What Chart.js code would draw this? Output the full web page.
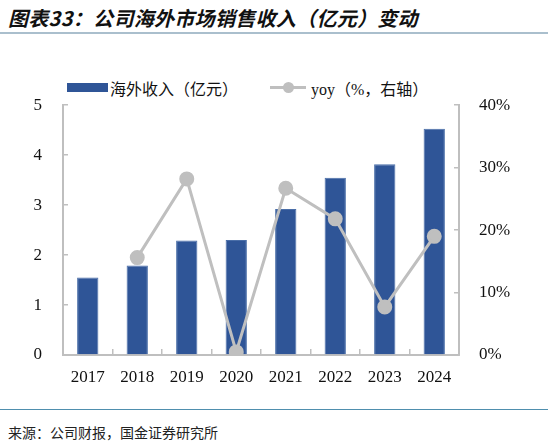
<!DOCTYPE html>
<html>
<head>
<meta charset="utf-8">
<script src="https://cdn.jsdelivr.net/npm/chart.js@4.4.1/dist/chart.umd.min.js"></script>
<style>
  body { margin: 0; width: 548px; height: 446px; background: #fff; position: relative; overflow: hidden; }
  .title { position: absolute; left: 8px; top: 3px; font: italic bold 20px "Noto Sans CJK SC", sans-serif; color: #111; letter-spacing: 0.3px; }
  .rule-top { position: absolute; left: 0; top: 32px; width: 548px; height: 2px; background: #aabfcd; }
  .rule-bottom { position: absolute; left: 0; top: 409px; width: 548px; height: 1px; background: #4f8fae; }
  .source { position: absolute; left: 8px; top: 422px; font: 14px "Noto Sans CJK SC", sans-serif; color: #222; }
  .legend { position: absolute; top: 74px; left: 0; font: 16px "Liberation Serif", "Noto Sans CJK SC", serif; color: #111; }
  .legend .item { position: absolute; white-space: nowrap; }
  .box { position: absolute; left: 67px; top: 9px; width: 41px; height: 9px; background: #2f5597; }
  .lline { position: absolute; left: 270px; top: 12px; width: 36px; height: 3px; background: #bfbfbf; }
  .ldot { position: absolute; left: 283px; top: 8px; width: 11px; height: 11px; border-radius: 50%; background: #bfbfbf; }
  #wrap { position: absolute; left: 0; top: 69px; width: 548px; height: 326px; }
</style>
</head>
<body>
<div class="title">图表33：公司海外市场销售收入（亿元）变动</div>
<div class="rule-top"></div>
<div class="legend">
  <div class="box"></div>
  <div class="item" style="left:110px;top:2px;">海外收入（亿元）</div>
  <div class="lline"></div>
  <div class="ldot"></div>
  <div class="item" style="left:311px;top:2px;">yoy（%，右轴）</div>
</div>
<div id="wrap"><canvas id="chart"></canvas></div>
<div class="rule-bottom"></div>
<div class="source">来源：公司财报，国金证券研究所</div>
<script>
const years = ["2017", "2018", "2019", "2020", "2021", "2022", "2023", "2024"];
const overseasRevenue = [1.55, 1.79, 2.29, 2.30, 2.92, 3.55, 3.82, 4.53];
const yoy = [null, 15.6, 28.2, 0.5, 26.7, 21.8, 7.7, 19.0];
const leftTicks = [0, 1, 2, 3, 4, 5];
const rightTicks = [0, 10, 20, 30, 40];

const tickFont = { family: "'Liberation Serif', 'Times New Roman', serif", size: 17 };
const axisGray = "#bfbfbf";

new Chart(document.getElementById("chart"), {
    data: {
        labels: years,
        datasets: [{
            type: "line",
            label: "yoy（%，右轴）",
            data: yoy,
            yAxisID: "y1",
            borderColor: "#bfbfbf",
            backgroundColor: "#bfbfbf",
            borderWidth: 3,
            pointRadius: 6,
            pointHoverRadius: 6,
            tension: 0,
            order: 0
        }, {
            type: "bar",
            label: "海外收入（亿元）",
            data: overseasRevenue,
            yAxisID: "y",
            backgroundColor: "#2f5597",
            borderColor: "#4a6ea8",
            borderWidth: 1,
            barPercentage: 0.43,
            categoryPercentage: 1,
            order: 1
        }]
    },
    options: {
        responsive: true,
        maintainAspectRatio: false,
        animation: false,
        layout: { padding: { top: 10, left: 0, right: 0, bottom: 0 } },
        plugins: { legend: { display: false }, tooltip: { enabled: false } },
        scales: {
            x: {
                offset: true,
                grid: { offset: true, drawOnChartArea: false, color: axisGray, tickLength: -6, lineWidth: 1.5 },
                border: { color: axisGray, width: 2 },
                ticks: { font: tickFont, color: "#111", padding: 18 },
                afterFit: (scale) => { scale.height = 40; }
            },
            y: {
                position: "left",
                min: 0,
                max: 5,
                afterBuildTicks: (scale) => { scale.ticks = leftTicks.map(v => ({ value: v })); },
                grid: { drawOnChartArea: false, color: axisGray, tickLength: -5, lineWidth: 1.5 },
                border: { color: axisGray, width: 2 },
                ticks: { font: tickFont, color: "#111", padding: 26 },
                afterFit: (scale) => { scale.width = 63; }
            },
            y1: {
                position: "right",
                min: 0,
                max: 40,
                afterBuildTicks: (scale) => { scale.ticks = rightTicks.map(v => ({ value: v })); },
                grid: { drawOnChartArea: false, color: axisGray, tickLength: -5, lineWidth: 1.5 },
                border: { color: axisGray, width: 2 },
                ticks: { font: tickFont, color: "#111", padding: 25, callback: (v) => v + "%" },
                afterFit: (scale) => { scale.width = 89; }
            }
        }
    }
});
</script>
</body>
</html>
